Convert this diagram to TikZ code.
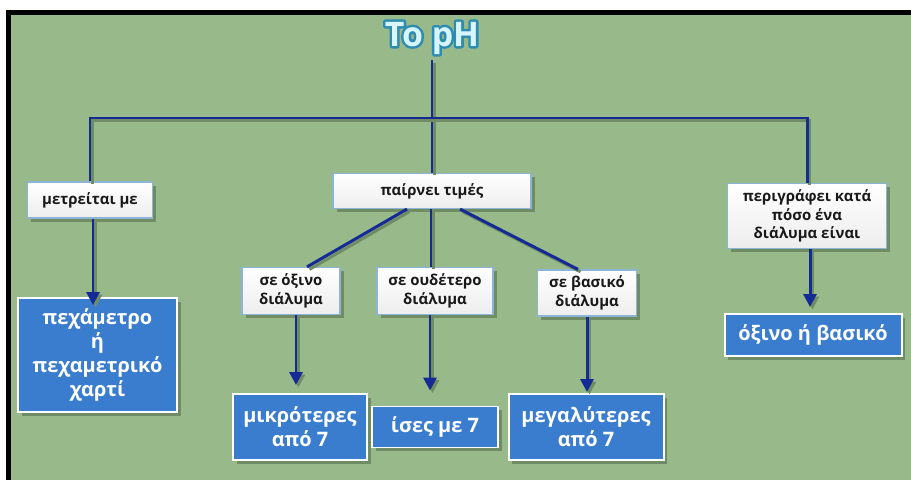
\documentclass[tikz,border=0pt]{standalone}
\usepackage{fontspec}
\setmainfont{Open Sans}
\usetikzlibrary{arrows.meta,calc,shadows}

\definecolor{bggreen}{RGB}{152,186,138}
\definecolor{shadegreen}{RGB}{112,140,100}
\definecolor{linkblue}{RGB}{22,42,150}
\definecolor{boxblue}{RGB}{58,125,206}
\definecolor{boxedge}{RGB}{140,180,215}
\definecolor{textdark}{RGB}{25,25,25}
\definecolor{titlefill}{RGB}{215,245,255}
\definecolor{titleedge}{RGB}{45,140,175}

% outlined glyphs: stroke and fill the text with a wide pen
\newcommand{\outlinedtext}[1]{%
  \special{pdf:literal direct 2 Tr 5 w 1 j}#1\special{pdf:literal direct 0 Tr 1 w 0 j}}

\tikzset{
  link/.style={draw=linkblue, line width=3pt,
    preaction={draw=shadegreen, line width=3pt,
      transform canvas={xshift=2.5pt,yshift=-2.5pt}}},
  arrowlink/.style={link, -{Triangle[length=13pt,width=13pt]}},
  boxshadow/.style={drop shadow={shadow xshift=4pt, shadow yshift=-4pt,
      fill=shadegreen, opacity=1}},
  whitebox/.style={boxshadow, draw=boxedge, line width=1.2pt,
    top color=white, bottom color=black!7, text=textdark, align=center,
    font=\bfseries\fontsize{15}{18.5}\selectfont, inner sep=2pt},
  bluebox/.style={boxshadow, draw=white, line width=2pt, fill=boxblue,
    text=white, align=center, font=\bfseries\fontsize{20}{24}\selectfont, inner sep=2pt},
  titletext/.style={font=\bfseries\fontsize{34}{36}\selectfont, inner sep=0pt}
}

\begin{document}
\begin{tikzpicture}[x=1bp,y=-1bp]
\useasboundingbox (0,0) rectangle (911,480);
% frame and green board
\fill[white] (0,0) rectangle (911,480);
\fill[black] (6,10) rectangle (915,485);
\fill[bggreen] (11,15) rectangle (915,485);

% heading: teal outline under a pale fill
\node[titletext, text=titleedge] (glow) at (432,38) {\outlinedtext{To pH}};
\node[titletext, text=titlefill] (title) at (glow) {To pH};

% boxes
\node[whitebox, minimum width=125bp, minimum height=36bp] (measure) at (90,200) {μετρείται με};
\node[bluebox, minimum width=159bp, minimum height=114bp] (meter) at (97.5,355)
  {πεχάμετρο\\ή\\πεχαμετρικό\\χαρτί};

\node[whitebox, minimum width=198bp, minimum height=35bp] (values) at (432,191) {παίρνει τιμές};
\node[whitebox, minimum width=98bp, minimum height=47bp] (acid) at (291,291) {σε όξινο\\διάλυμα};
\node[whitebox, minimum width=116bp, minimum height=47bp] (neutral) at (435,291) {σε ουδέτερο\\διάλυμα};
\node[whitebox, minimum width=99bp, minimum height=46bp] (basic) at (587,293) {σε βασικό\\διάλυμα};

\node[bluebox, minimum width=134bp, minimum height=66bp] (smaller) at (300,427) {μικρότερες\\από 7};
\node[bluebox, minimum width=126bp, minimum height=41bp] (equal) at (435,427) {ίσες με 7};
\node[bluebox, minimum width=155bp, minimum height=66bp] (greater) at (586,427) {μεγαλύτερες\\από 7};

\node[whitebox, minimum width=159bp, minimum height=65bp] (describes) at (807,216)
  {περιγράφει κατά\\πόσο ένα\\διάλυμα είναι};
\node[bluebox, minimum width=177bp, minimum height=42bp] (acidbasic) at (813,335) {όξινο ή βασικό};

% tree connectors
\coordinate (hub) at (432,118);
\draw[link] ($(title.south)+(0,6)$) -- (values.north);
\draw[link] (measure.north) -- (measure.north |- hub) -- (describes.north |- hub) -- (describes.north);
\draw[link] ($(values.south)+(-25,0)$) -- ($(acid.north)+(16,0)$);
\draw[link] ($(values.south)+(-1,0)$) -- ($(neutral.north)+(-4,0)$);
\draw[link] ($(values.south)+(28,0)$) -- ($(basic.north)+(-9,0)$);

% arrows to the answers
\draw[arrowlink] ($(measure.south)+(3,0)$) -- ($(meter.north)+(-4.5,8)$);
\draw[arrowlink, shorten >=8pt] ($(acid.south)+(5,0)$) -- ($(smaller.north)+(-4,0)$);
\draw[arrowlink, shorten >=15pt] ($(neutral.south)+(-5,0)$) -- ($(equal.north)+(-5,0)$);
\draw[arrowlink, shorten >=1pt] (basic.south) -- ($(greater.north)+(1,0)$);
\draw[arrowlink, shorten >=6pt] ($(describes.south)+(3,0)$) -- ($(acidbasic.north)+(-3,0)$);
\end{tikzpicture}
\end{document}
